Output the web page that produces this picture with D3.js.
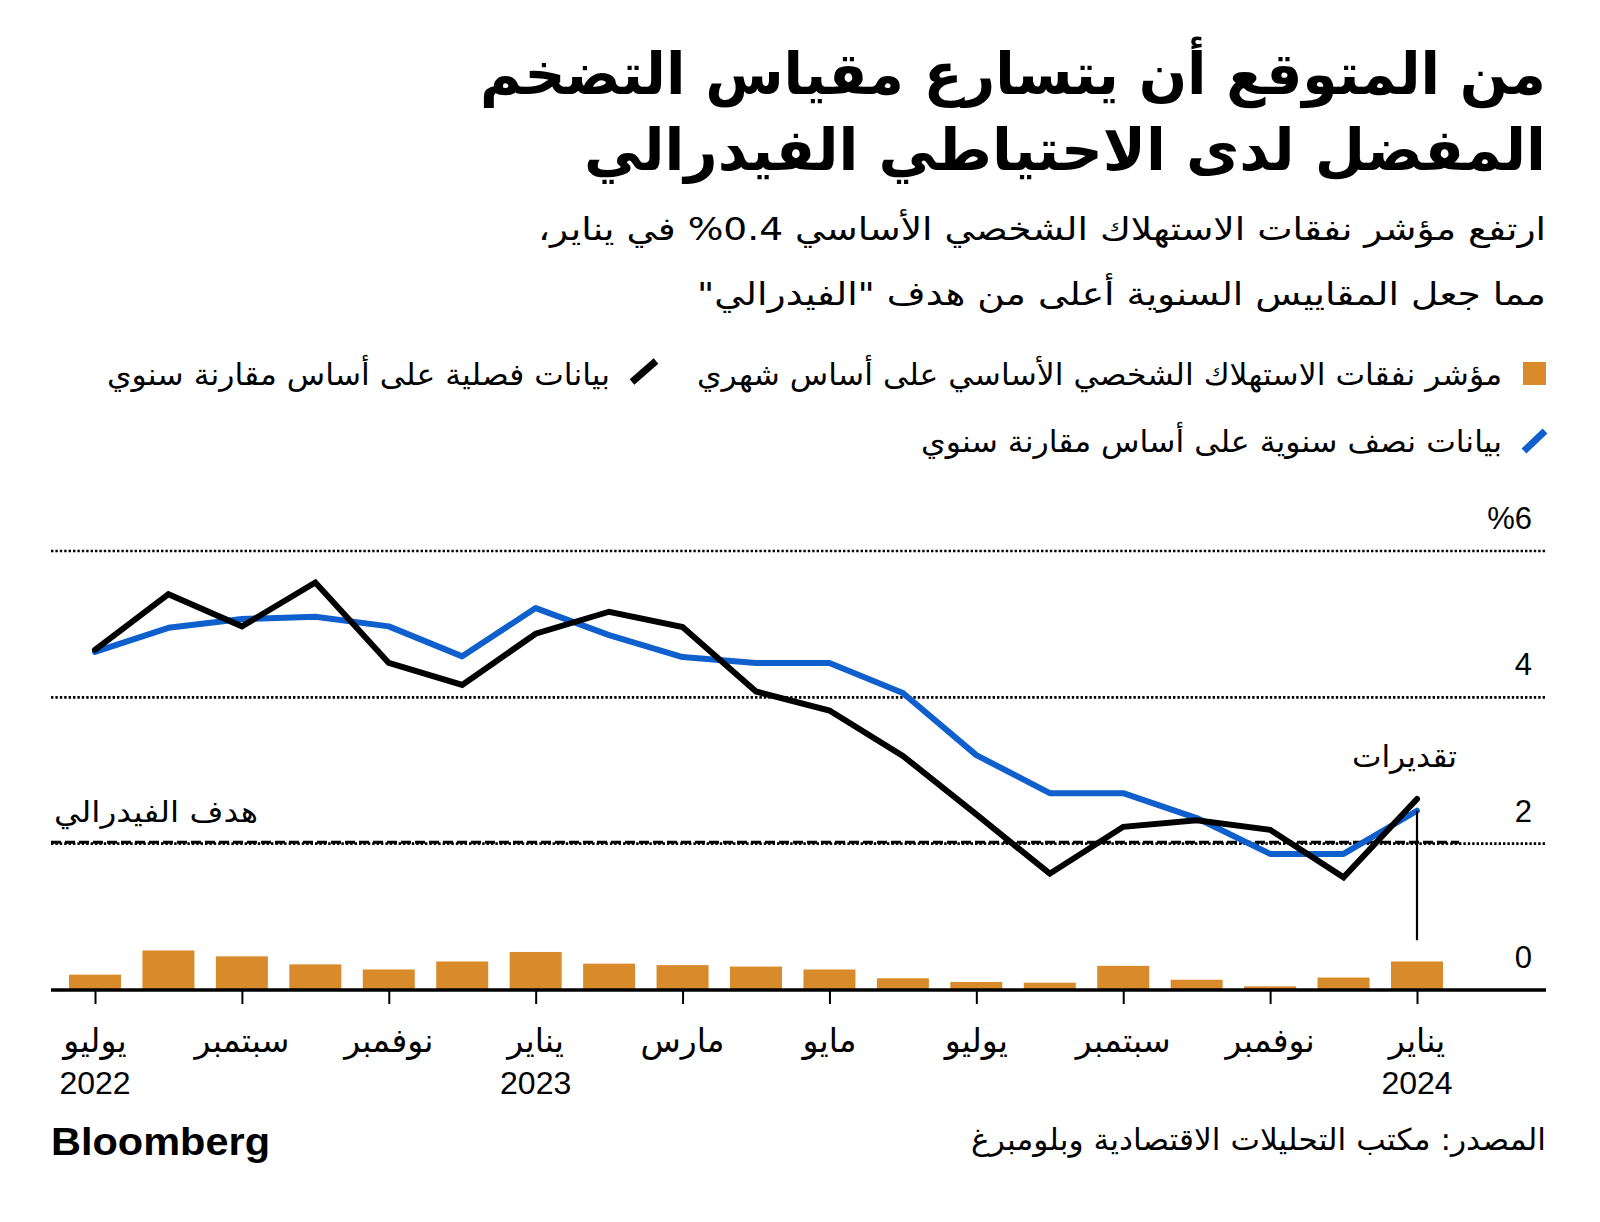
<!DOCTYPE html>
<html><head><meta charset="utf-8">
<script src="https://cdn.jsdelivr.net/npm/d3@7"></script>
<style>body{margin:0;background:#fff} svg{display:block}</style>
</head><body><svg id="c" width="1600" height="1222"></svg>
<script>
// ---------- data ----------
const months = ["2022-07","2022-08","2022-09","2022-10","2022-11","2022-12","2023-01","2023-02","2023-03","2023-04","2023-05","2023-06","2023-07","2023-08","2023-09","2023-10","2023-11","2023-12","2024-01"];
const monthly   = [0.21,0.54,0.46,0.35,0.28,0.39,0.52,0.36,0.34,0.32,0.28,0.16,0.11,0.10,0.33,0.14,0.05,0.17,0.39];
const quarterly = [4.65,5.41,4.97,5.57,4.47,4.17,4.87,5.17,4.96,4.08,3.82,3.20,2.40,1.59,2.23,2.32,2.19,1.54,2.61];
const semiannual= [4.62,4.95,5.07,5.10,4.97,4.56,5.22,4.85,4.55,4.47,4.47,4.06,3.21,2.69,2.69,2.35,1.86,1.86,2.45];
const tickMonths = ["2022-07","2022-09","2022-11","2023-01","2023-03","2023-05","2023-07","2023-09","2023-11","2024-01"];
const tickLabels = ["يوليو","سبتمبر","نوفمبر","يناير","مارس","مايو","يوليو","سبتمبر","نوفمبر","يناير"];
const yearLabels = {"2022-07":"2022","2023-01":"2023","2024-01":"2024"};
const yTicks = [0,2,4,6];
const yTickLabels = ["0","2","4","%6"];
const fedTarget = 2;

const title = ["من المتوقع أن يتسارع مقياس التضخم","المفضل لدى الاحتياطي الفيدرالي"];
const subtitle = ["ارتفع مؤشر نفقات الاستهلاك الشخصي الأساسي 0.4% في يناير،","مما جعل المقاييس السنوية أعلى من هدف \"الفيدرالي\""];
const legendLabels = ["مؤشر نفقات الاستهلاك الشخصي الأساسي على أساس شهري","بيانات فصلية على أساس مقارنة سنوي","بيانات نصف سنوية على أساس مقارنة سنوي"];
const fedLabel = "هدف الفيدرالي";
const estLabel = "تقديرات";
const source = "المصدر: مكتب التحليلات الاقتصادية وبلومبرغ";

// ---------- setup ----------
const C = {orange:"#D98A2B", blue:"#0F5FCC", black:"#000"};
const AR = "'DejaVu Sans', sans-serif";
const NUM = "'Liberation Sans Narrow','Liberation Sans', Arial, sans-serif";
const svg = d3.select("#c");
const L = 51, R = 1546;

const x = d3.scalePoint().domain(months).range([95, 1417]);
const y = d3.scaleLinear().domain([0, 6]).range([990, 551]);

function rtlText(g, str, xr, yb, size, width, weight){
  const t = g.append("text").attr("x", xr).attr("y", yb)
    .attr("direction","rtl").attr("text-anchor","start")
    .style("font-family", AR).style("font-size", size+"px")
    .style("font-weight", weight||"normal").attr("fill","#000").text(str);
  if (width) t.attr("textLength", width).attr("lengthAdjust","spacingAndGlyphs");
  return t;
}

// title / subtitle
rtlText(svg, title[0], R, 94, 58, 1066, "bold");
rtlText(svg, title[1], R, 170, 58, 962, "bold");
rtlText(svg, subtitle[0], R, 240, 32, 1008);
rtlText(svg, subtitle[1], R, 305, 32, 849);

// legend
svg.append("rect").attr("x",1523).attr("y",362).attr("width",23).attr("height",23).attr("fill",C.orange);
rtlText(svg, legendLabels[0], 1502, 385, 30, 805);
svg.append("line").attr("x1",632).attr("y1",382).attr("x2",656).attr("y2",361).attr("stroke",C.black).attr("stroke-width",7);
rtlText(svg, legendLabels[1], 610, 385, 30, 503);
svg.append("line").attr("x1",1524).attr("y1",451).attr("x2",1545).attr("y2",431).attr("stroke",C.blue).attr("stroke-width",7);
rtlText(svg, legendLabels[2], 1502, 452, 30, 581);

// gridlines
const grid = svg.append("g");
[6,4,2].forEach(v=>{
  grid.append("line").attr("x1",L).attr("x2",R).attr("y1",y(v)).attr("y2",y(v))
    .attr("stroke","#000").attr("stroke-width",2.6).attr("stroke-dasharray","2.4,2");
});
// fed target dashed
grid.append("line").attr("x1",L).attr("x2",x(months[months.length-1])+42)
  .attr("y1",y(fedTarget)-1.5).attr("y2",y(fedTarget)-1.5)
  .attr("stroke","#000").attr("stroke-width",3).attr("stroke-dasharray","10,4");
svg.append("text").attr("x",54).attr("y",822).style("font-family",AR).style("font-size","29px")
  .attr("direction","rtl").attr("text-anchor","end").attr("textLength",204).attr("lengthAdjust","spacingAndGlyphs").text(fedLabel);

// y labels
yTicks.forEach((v,i)=>{
  svg.append("text").attr("x",1532).attr("y",y(v)-22).attr("text-anchor","end")
    .style("font-family",NUM).style("font-size","31px").text(yTickLabels[i]);
});

// bars
const bw = 52;
svg.append("g").selectAll("rect").data(months).join("rect")
  .attr("x",d=>x(d)-bw/2).attr("width",bw)
  .attr("y",(d,i)=>y(monthly[i])).attr("height",(d,i)=>y(0)-y(monthly[i]))
  .attr("fill",C.orange);

// x axis
const xa = svg.append("g").attr("transform",`translate(0,${y(0)})`)
  .call(d3.axisBottom(x).tickValues(tickMonths).tickSize(14).tickFormat(""));
xa.select(".domain").remove();
xa.selectAll(".tick line").attr("stroke","#000").attr("stroke-width",2);
svg.append("line").attr("x1",L).attr("x2",R).attr("y1",y(0)).attr("y2",y(0)).attr("stroke","#000").attr("stroke-width",3.5);

tickMonths.forEach((m,i)=>{
  svg.append("text").attr("x",x(m)).attr("y",1052).attr("text-anchor","middle")
    .attr("direction","rtl").style("font-family",AR).style("font-size","33px").text(tickLabels[i]);
  if (yearLabels[m]) svg.append("text").attr("x",x(m)).attr("y",1094).attr("text-anchor","middle")
    .style("font-family",NUM).style("font-size","32px").text(yearLabels[m]);
});

// lines
const line = d3.line().x((d,i)=>x(months[i])).y(d=>y(d));
svg.append("path").datum(semiannual).attr("d",line).attr("fill","none").attr("stroke",C.blue)
  .attr("stroke-width",6).attr("stroke-linejoin","round").attr("stroke-linecap","round");
svg.append("path").datum(quarterly).attr("d",line).attr("fill","none").attr("stroke",C.black)
  .attr("stroke-width",6).attr("stroke-linejoin","miter").attr("stroke-linecap","round");

// estimate annotation
const lastM = months[months.length-1];
svg.append("line").attr("x1",x(lastM)).attr("x2",x(lastM)).attr("y1",y(semiannual[semiannual.length-1])).attr("y2",y(0.68))
  .attr("stroke","#000").attr("stroke-width",2.2);
rtlText(svg, estLabel, 1457, 767, 30, 105);

// footer
svg.append("text").attr("x",51).attr("y",1155).style("font-family","'Liberation Sans', Arial, sans-serif")
  .style("font-weight","bold").style("font-size","38px").attr("textLength",219).attr("lengthAdjust","spacingAndGlyphs").text("Bloomberg");
rtlText(svg, source, R, 1150, 30, 575);
</script></body></html>
